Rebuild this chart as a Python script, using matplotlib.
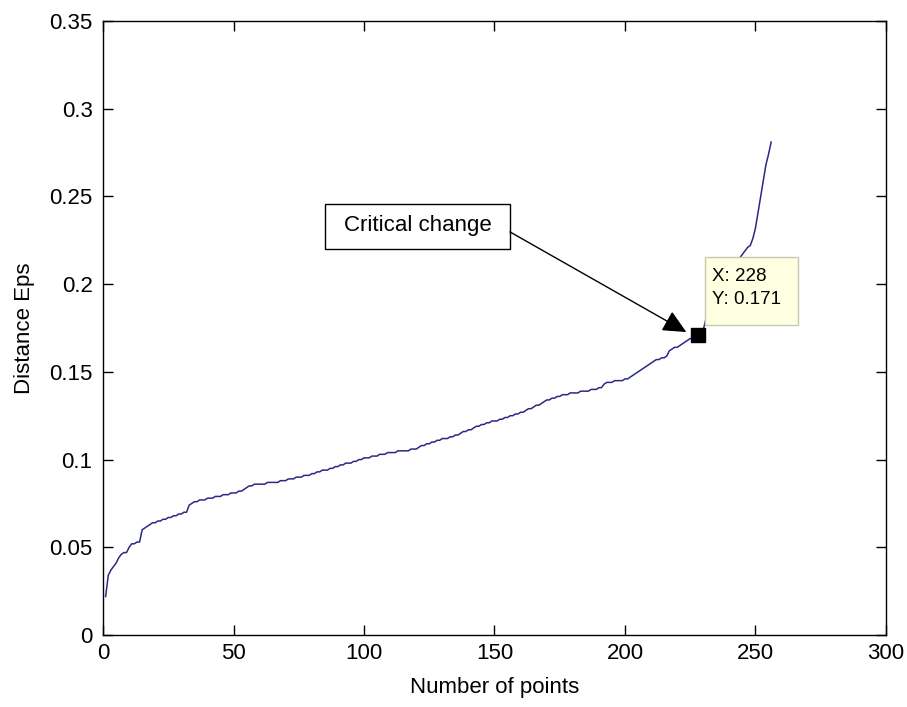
import numpy as np
import matplotlib
matplotlib.use("Agg")
import matplotlib.pyplot as plt
from matplotlib.patches import Rectangle

plt.rcParams['font.family'] = ['Liberation Sans', 'DejaVu Sans']

# Sorted k-distance of each point (k-dist graph), point index 1..256
eps_dist = [
    0.022, 0.034, 0.037, 0.039, 0.041, 0.044, 0.046, 0.047, 0.047, 0.050,
    0.052, 0.052, 0.053, 0.053, 0.060, 0.061, 0.062, 0.063, 0.064, 0.064,
    0.065, 0.065, 0.066, 0.066, 0.067, 0.067, 0.068, 0.068, 0.069, 0.069,
    0.070, 0.070, 0.074, 0.075, 0.076, 0.076, 0.077, 0.077, 0.077, 0.078,
    0.078, 0.078, 0.079, 0.079, 0.079, 0.080, 0.080, 0.080, 0.081, 0.081,
    0.081, 0.082, 0.082, 0.083, 0.084, 0.085, 0.085, 0.086, 0.086, 0.086,
    0.086, 0.086, 0.087, 0.087, 0.087, 0.087, 0.087, 0.088, 0.088, 0.088,
    0.089, 0.089, 0.089, 0.090, 0.090, 0.090, 0.091, 0.091, 0.091, 0.092,
    0.092, 0.093, 0.093, 0.094, 0.094, 0.094, 0.095, 0.095, 0.096, 0.096,
    0.097, 0.097, 0.098, 0.098, 0.098, 0.099, 0.099, 0.100, 0.100, 0.101,
    0.101, 0.101, 0.102, 0.102, 0.102, 0.103, 0.103, 0.103, 0.104, 0.104,
    0.104, 0.104, 0.105, 0.105, 0.105, 0.105, 0.105, 0.106, 0.106, 0.106,
    0.107, 0.108, 0.108, 0.109, 0.109, 0.110, 0.110, 0.111, 0.111, 0.112,
    0.112, 0.112, 0.113, 0.113, 0.114, 0.114, 0.115, 0.116, 0.116, 0.117,
    0.117, 0.118, 0.119, 0.119, 0.120, 0.120, 0.121, 0.121, 0.122, 0.122,
    0.122, 0.123, 0.123, 0.124, 0.124, 0.125, 0.125, 0.126, 0.126, 0.127,
    0.127, 0.128, 0.129, 0.129, 0.130, 0.131, 0.131, 0.132, 0.133, 0.134,
    0.134, 0.135, 0.135, 0.136, 0.136, 0.137, 0.137, 0.137, 0.138, 0.138,
    0.138, 0.138, 0.139, 0.139, 0.139, 0.139, 0.140, 0.140, 0.140, 0.141,
    0.141, 0.143, 0.144, 0.144, 0.144, 0.145, 0.145, 0.145, 0.145, 0.146,
    0.146, 0.147, 0.148, 0.149, 0.150, 0.151, 0.152, 0.153, 0.154, 0.155,
    0.156, 0.157, 0.157, 0.158, 0.158, 0.159, 0.162, 0.163, 0.164, 0.164,
    0.165, 0.166, 0.167, 0.168, 0.169, 0.169, 0.170, 0.171,
    0.172, 0.174, 0.180, 0.184, 0.188, 0.192, 0.195, 0.198, 0.201, 0.203,
    0.205, 0.207, 0.209, 0.211, 0.213, 0.215, 0.217, 0.219, 0.221, 0.222,
    0.226, 0.232, 0.241, 0.250, 0.259, 0.268, 0.274, 0.281,
]
n_points = np.arange(1, len(eps_dist) + 1)

x_ticks = [0, 50, 100, 150, 200, 250, 300]
y_ticks = [0, 0.05, 0.1, 0.15, 0.2, 0.25, 0.3, 0.35]
y_tick_labels = ['0', '0.05', '0.1', '0.15', '0.2', '0.25', '0.3', '0.35']

tip_x, tip_y = 228, 0.171
note_text = 'Critical change'

fig = plt.figure(figsize=(9.07, 7.07), dpi=100)
ax = fig.add_axes([0.1136, 0.1018, 0.8632, 0.8685])

ax.plot(n_points, eps_dist, color='#2a2a85', lw=1.1, zorder=2)

ax.set_xlim(0, 300)
ax.set_ylim(0, 0.35)
ax.set_xticks(x_ticks)
ax.set_yticks(y_ticks)
ax.set_yticklabels(y_tick_labels)
ax.tick_params(direction='in', length=7.2, width=1.0, top=True, right=True,
               labelsize=16, colors='black')
ax.tick_params(axis='y', pad=7.5)
ax.tick_params(axis='x', pad=6)
for s in ax.spines.values():
    s.set_linewidth(1.0)

ax.set_xlabel('Number of points', fontsize=16, labelpad=9)
ax.set_ylabel('Distance Eps', fontsize=16, labelpad=10)

# data tip box
ax.add_patch(Rectangle((230.6, 0.1767), 35.7, 0.0388, facecolor='#ffffe1',
                       edgecolor='#c8c8b0', lw=1.0, zorder=4))
ax.text(233.3, 0.2042, f'X: {tip_x}', fontsize=13.5, va='center', ha='left', zorder=5)
ax.text(233.3, 0.1910, f'Y: {tip_y}', fontsize=13.5, va='center', ha='left', zorder=5)
ax.plot([tip_x], [tip_y], marker='s', ms=9.4, color='black', zorder=6)

# text annotation with arrow
ax.add_patch(Rectangle((85.06, 0.2201), 70.84, 0.0256, facecolor='white',
                       edgecolor='black', lw=1.0, zorder=4))
ax.text(120.5, 0.2332, note_text, fontsize=16, ha='center', va='center', zorder=5)
ax.annotate('', xy=(223.5, 0.1727), xytext=(155.9, 0.2298),
            arrowprops=dict(arrowstyle='-|>,head_length=0.8,head_width=0.38',
                            mutation_scale=18, color='black', lw=1.0,
                            shrinkA=0, shrinkB=0), zorder=5)

fig.savefig('out.png', dpi=100, facecolor='white')
